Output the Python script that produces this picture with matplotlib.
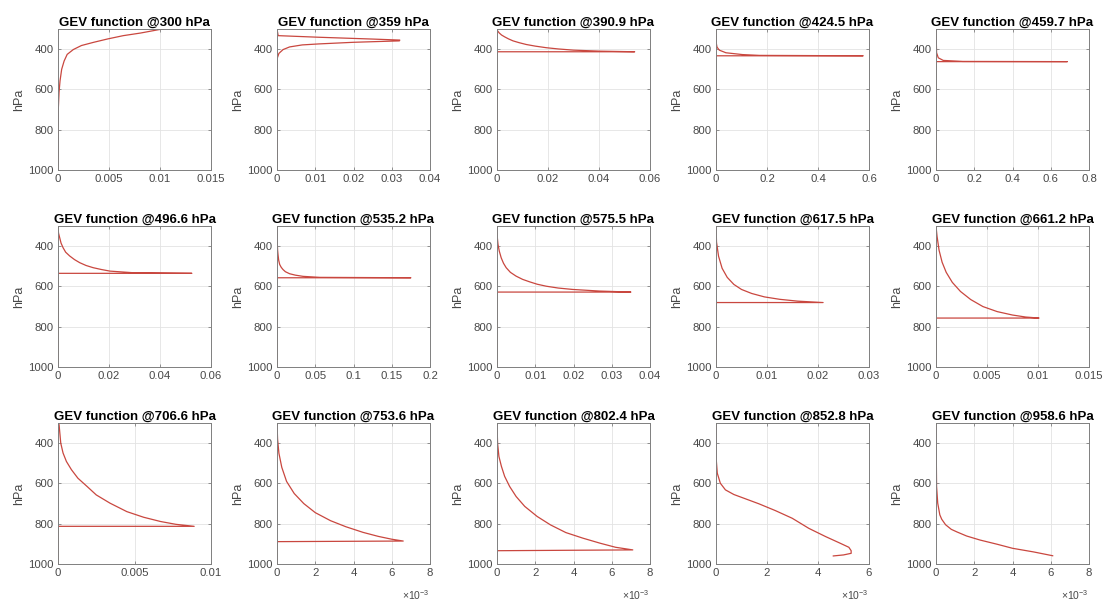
import matplotlib

matplotlib.use("Agg")
import matplotlib.pyplot as plt

plt.rcParams["font.family"] = ["Liberation Sans", "DejaVu Sans"]
plt.rcParams["mathtext.fontset"] = "custom"
plt.rcParams["mathtext.rm"] = "Liberation Sans"
plt.rcParams["mathtext.it"] = "Liberation Sans:italic"

# level of each panel (hPa) as printed in the titles
levels = ["300", "359", "390.9", "424.5", "459.7",
          "496.6", "535.2", "575.5", "617.5", "661.2",
          "706.6", "753.6", "802.4", "852.8", "958.6"]

# curves: x = GEV value, p = pressure (hPa)
x_300 = [0.0104, 0.0099, 0.0081, 0.0064, 0.0049, 0.0035, 0.0023, 0.0015, 0.0009,
         0.0006, 0.00036, 0.0002, 0.0001, 0.00003, 0.0]
p_300 = [300, 303, 320, 333, 349, 366, 382, 402, 426, 459, 500, 557, 615, 697, 1000]

x_359 = [0.0, 0.0003, 0.011, 0.025, 0.0321, 0.032, 0.020, 0.011, 0.0066, 0.0033,
         0.0016, 0.0005, 0.0001, 0.0]
p_359 = [300, 333, 341, 350, 355, 359, 366, 374, 379, 389, 402, 421, 443, 1000]

x_390 = [0.0, 0.0004, 0.0009, 0.0018, 0.003, 0.0045, 0.0063, 0.0087, 0.0115, 0.015,
         0.0194, 0.024, 0.030, 0.0403, 0.054, 0.0, 0.0]
p_390 = [305, 312, 320, 330, 339, 349, 359, 368, 377, 385, 393, 399, 405, 410, 413,
         413, 1000]

x_424 = [0.0, 0.001, 0.004, 0.013, 0.039, 0.104, 0.17, 0.577, 0.0, 0.0]
p_424 = [300, 370, 390, 405, 418, 427, 431, 433, 433, 1000]

x_459 = [0.0, 0.003, 0.012, 0.038, 0.14, 0.687, 0.0, 0.0]
p_459 = [300, 418, 443, 456, 461, 462, 462, 1000]

x_496 = [0.0, 0.0002, 0.00066, 0.0012, 0.002, 0.003, 0.0046, 0.0065, 0.0085, 0.011,
         0.0138, 0.017, 0.0204, 0.0295, 0.0525, 0.0, 0.0]
p_496 = [308, 335, 358, 385, 408, 430, 449, 467, 482, 496, 507, 516, 524, 532, 535,
         535, 1000]

x_535 = [0.0, 0.0003, 0.0008, 0.0013, 0.0022, 0.0035, 0.0055, 0.0078, 0.011, 0.0165,
         0.024, 0.034, 0.056, 0.175, 0.0, 0.0]
p_535 = [308, 380, 420, 441, 470, 491, 505, 516, 527, 537, 544, 550, 555, 557, 557, 1000]

x_575 = [0.0, 0.0001, 0.00026, 0.0006, 0.0011, 0.0017, 0.0024, 0.0035, 0.005, 0.0067,
         0.0085, 0.0105, 0.0129, 0.016, 0.0198, 0.0268, 0.035, 0.0, 0.0]
p_575 = [305, 360, 391, 425, 458, 485, 507, 530, 549, 565, 577, 589, 599, 608, 615,
         623, 628, 628, 1000]

x_617 = [0.0, 0.0001, 0.0005, 0.0012, 0.0022, 0.0035, 0.005, 0.007, 0.0095, 0.0125,
         0.016, 0.021, 0.0, 0.0]
p_617 = [300, 380, 450, 510, 555, 590, 615, 635, 652, 664, 673, 680, 680, 1000]

x_661 = [0.0, 0.0001, 0.0003, 0.0006, 0.001, 0.0016, 0.0024, 0.0034, 0.0046, 0.006,
         0.0075, 0.0088, 0.0101, 0.0, 0.0]
p_661 = [300, 350, 420, 480, 530, 580, 625, 665, 700, 725, 742, 752, 757, 757, 1000]

x_706 = [0.0, 0.00007, 0.00018, 0.00033, 0.00055, 0.00088, 0.0013, 0.0019, 0.0025,
         0.0034, 0.0045, 0.0056, 0.0067, 0.0077, 0.0089, 0.0, 0.0]
p_706 = [300, 308, 400, 449, 491, 532, 574, 615, 657, 698, 740, 768, 789, 803, 813,
         813, 1000]

x_753 = [0.0, 0.00003, 0.0001, 0.00025, 0.0005, 0.0009, 0.0014, 0.002, 0.0028, 0.0036,
         0.0045, 0.0053, 0.006, 0.0066, 0.0, 0.0]
p_753 = [300, 380, 450, 520, 590, 650, 700, 745, 785, 815, 843, 863, 877, 886, 889, 1000]

x_802 = [0.0, 0.00003, 0.0001, 0.00023, 0.0004, 0.00066, 0.001, 0.00145, 0.0021,
         0.0028, 0.0036, 0.0045, 0.0054, 0.0062, 0.0071, 0.0, 0.0]
p_802 = [308, 400, 466, 515, 565, 615, 665, 714, 764, 806, 844, 872, 897, 917, 930,
         934, 1000]

x_852 = [0.0, 0.00001, 0.00005, 0.00017, 0.00037, 0.0007, 0.00102, 0.00168, 0.00233,
         0.00299, 0.00364, 0.0043, 0.00482, 0.00521, 0.0053, 0.0053, 0.005, 0.0046]
p_852 = [300, 482, 549, 599, 632, 655, 670, 701, 735, 773, 823, 864, 894, 917, 934,
         947, 955, 960]

x_958 = [0.0, 0.00002, 0.00003, 0.00009, 0.0002, 0.0003, 0.0005, 0.0008, 0.0011,
         0.0016, 0.0023, 0.0032, 0.004, 0.0051, 0.0061]
p_958 = [300, 516, 615, 698, 756, 778, 805, 828, 841, 861, 881, 902, 922, 940, 959]

curves = [(x_300, p_300), (x_359, p_359), (x_390, p_390), (x_424, p_424), (x_459, p_459),
          (x_496, p_496), (x_535, p_535), (x_575, p_575), (x_617, p_617), (x_661, p_661),
          (x_706, p_706), (x_753, p_753), (x_802, p_802), (x_852, p_852), (x_958, p_958)]

# x-axis extent and tick step per panel
x_max = [0.015, 0.04, 0.06, 0.6, 0.8,
         0.06, 0.2, 0.04, 0.03, 0.015,
         0.01, 0.008, 0.008, 0.006, 0.008]
x_step = [0.005, 0.01, 0.02, 0.2, 0.2,
          0.02, 0.05, 0.01, 0.01, 0.005,
          0.005, 0.002, 0.002, 0.002, 0.002]
x_sci = [False] * 11 + [True] * 4

p_ticks = [400, 600, 800, 1000]

W, H = 1104, 603
col_left = [58, 277, 497, 716, 936]
row_top = [29, 226, 423]
ax_w, ax_h = 153, 141

LINE = "#c9473f"
EDGE = "#7f7f7f"
TXT = "#484848"

fig = plt.figure(figsize=(W / 100, H / 100), dpi=100)

for k, (xs, ps) in enumerate(curves):
    r, c = divmod(k, 5)
    ax = fig.add_axes([col_left[c] / W, 1 - (row_top[r] + ax_h) / H, ax_w / W, ax_h / H])
    ax.plot(xs, ps, color=LINE, lw=0.9)

    n = int(round(x_max[k] / x_step[k]))
    ticks = [i * x_step[k] for i in range(n + 1)]
    ax.set_xlim(0, x_max[k])
    ax.set_xticks(ticks)
    if x_sci[k]:
        ax.set_xticklabels([f"{t * 1e3:g}" for t in ticks])
        ax.text(1.0, -0.22, "×10$^{-3}$", transform=ax.transAxes, ha="right",
                va="center", fontsize=7.5, color=TXT)
    else:
        ax.set_xticklabels([f"{round(t, 6):g}" for t in ticks])

    ax.set_ylim(1000, 300)
    ax.set_yticks(p_ticks)
    ax.set_ylabel("hPa", fontsize=9, color=TXT, labelpad=2)
    ax.set_title(f"GEV function @{levels[k]} hPa", fontsize=9.5, fontweight="bold",
                 color="black", pad=2)

    ax.grid(True, color="#e3e3e3", lw=0.6)
    ax.set_axisbelow(True)
    ax.tick_params(direction="in", length=2.5, width=0.6, labelsize=8.2,
                   colors=EDGE, labelcolor=TXT, top=True, right=True, pad=3)
    for s in ax.spines.values():
        s.set_color(EDGE)
        s.set_linewidth(0.7)

fig.savefig("out.png", dpi=100)
